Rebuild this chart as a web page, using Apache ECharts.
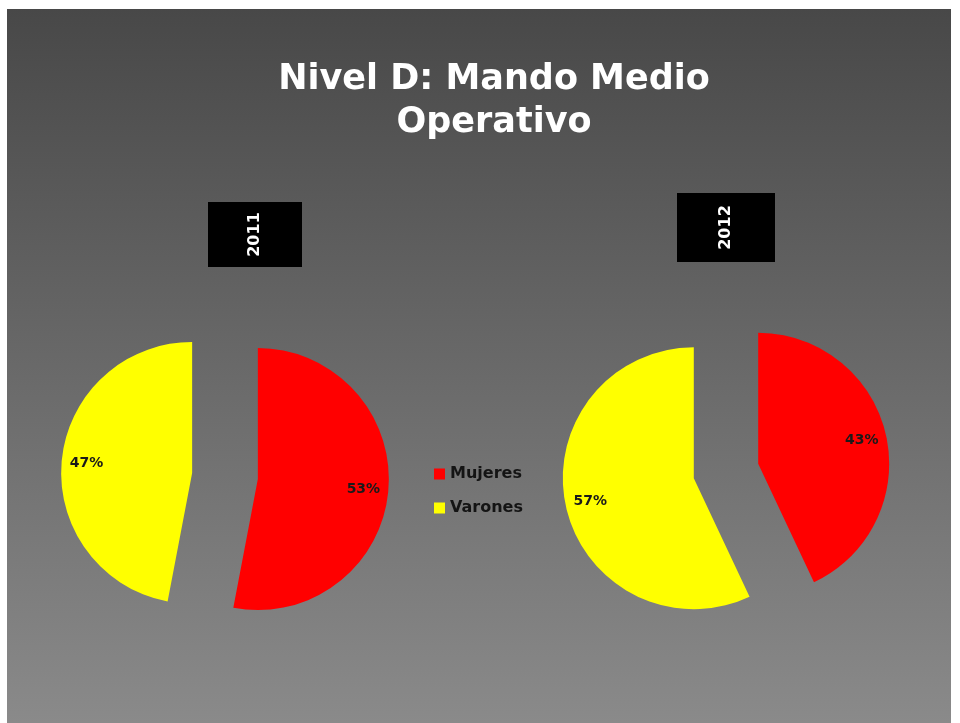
<!DOCTYPE html>
<html>
<head>
<meta charset="utf-8">
<script src="https://cdn.jsdelivr.net/npm/echarts@6/dist/echarts.min.js"></script>
<style>
  html, body { margin: 0; padding: 0; background: #fff; }
  #chart { width: 960px; height: 723px; }
</style>
</head>
<body>
<div id="chart"></div>
<script>
// datos
const categories = ['Mujeres', 'Varones']
const years = ['2011', '2012']
const values2011 = [53, 47]
const values2012 = [43, 57]
const colors = ['#ff0000', '#ffff00']

const font = '"DejaVu Sans", Lato, sans-serif'

const chart = echarts.init(document.getElementById('chart'))

function pieData (values, ghost) {
  return categories.map((name, i) => {
    return {
      name: name,
      value: values[i],
      selected: true,
      itemStyle: { color: ghost ? 'rgba(0,0,0,0)' : colors[i] }
    }
  })
}

function pieSeries (values, center) {
  const base = {
    type: 'pie',
    center: center,
    startAngle: 90,
    clockwise: true,
    selectedMode: 'multiple',
    selectedOffset: 33,
    emphasis: { disabled: true },
    labelLine: { show: false }
  }
  return [
    Object.assign({}, base, {
      radius: 131,
      label: { show: false },
      data: pieData(values, false)
    }),
    // serie invisible solo para colocar las etiquetas mas afuera
    Object.assign({}, base, {
      radius: 206,
      silent: true,
      z: 3,
      label: {
        show: true,
        position: 'inside',
        formatter: '{c}%',
        color: '#1a1a1a',
        fontSize: 14,
        fontWeight: 'bold',
        fontFamily: font
      },
      data: pieData(values, true)
    })
  ]
}

function yearBox (text, x, y, w, h) {
  return [
    {
      type: 'rect',
      shape: { x: x, y: y, width: w, height: h },
      style: { fill: '#000' },
      z: 1
    },
    {
      type: 'text',
      x: x + w / 2,
      y: y + h / 2,
      rotation: Math.PI / 2,
      style: {
        text: text,
        fill: '#fff',
        font: 'bold 16px ' + font,
        align: 'center',
        verticalAlign: 'middle'
      },
      z: 2
    }
  ]
}

chart.setOption({
  animation: false,
  backgroundColor: '#fff',
  title: {
    text: 'Nivel D: Mando Medio\nOperativo',
    left: 494,
    top: 58,
    padding: 0,
    textAlign: 'center',
    textStyle: {
      color: '#fff',
      fontSize: 35,
      fontWeight: 'bold',
      lineHeight: 43,
      fontFamily: font
    }
  },
  legend: {
    orient: 'vertical',
    left: 429,
    top: 459,
    icon: 'rect',
    itemWidth: 11,
    itemHeight: 11,
    itemGap: 14,
    selectedMode: false,
    textStyle: {
      color: '#141414',
      fontSize: 16,
      fontWeight: 'bold',
      lineHeight: 20,
      fontFamily: font
    },
    data: categories.map((name, i) => ({ name: name, itemStyle: { color: colors[i] } }))
  },
  graphic: [
    {
      type: 'rect',
      shape: { x: 7, y: 9, width: 944, height: 714 },
      style: {
        fill: new echarts.graphic.LinearGradient(0, 0, 0, 1, [
          { offset: 0, color: '#484848' },
          { offset: 1, color: '#8a8a8a' }
        ])
      },
      z: -10
    }
  ].concat(yearBox(years[0], 208, 202, 94, 65))
    .concat(yearBox(years[1], 677, 193, 98, 69)),
  series: pieSeries(values2011, [225, 476]).concat(pieSeries(values2012, [726, 471]))
})
</script>
</body>
</html>
